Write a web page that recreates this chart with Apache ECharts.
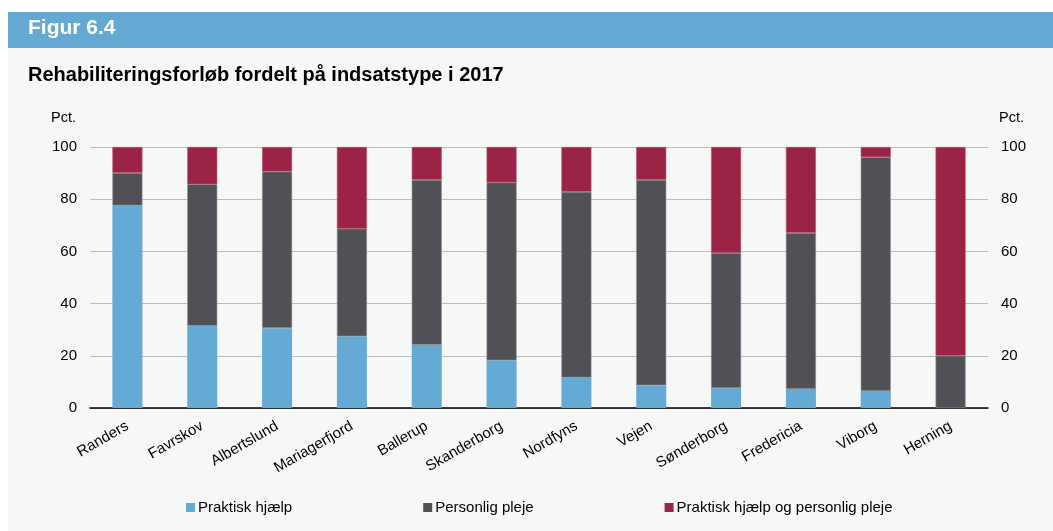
<!DOCTYPE html>
<html lang="da">
<head>
    <meta charset="utf-8">
    <title>Figur 6.4 - Rehabiliteringsforløb fordelt på indsatstype i 2017</title>
    <style>
        body { margin: 0; background: #fff; }
        #main { width: 1053px; height: 531px; }
    </style>
</head>
<body>
<div id="main"></div>
<script src="https://cdn.jsdelivr.net/npm/echarts@6/dist/echarts.min.js"></script>
<script type="text/javascript">
    // kommuner
    var kommuner = ['Randers', 'Favrskov', 'Albertslund', 'Mariagerfjord', 'Ballerup', 'Skanderborg',
        'Nordfyns', 'Vejen', 'Sønderborg', 'Fredericia', 'Viborg', 'Herning'];
    // andele i pct.
    var praktiskHjaelp = [77.6, 31.5, 30.6, 27.5, 24.2, 18.3, 11.7, 8.7, 7.6, 7.3, 6.5, 0];
    var personligPleje = [12.5, 54.2, 60.0, 41.2, 63.2, 68.1, 71.1, 78.7, 51.8, 59.8, 89.6, 20.0];
    var begge = [9.9, 14.3, 9.4, 31.3, 12.6, 13.6, 17.2, 12.6, 40.6, 32.9, 3.9, 80.0];
    var serieNavne = ['Praktisk hjælp', 'Personlig pleje', 'Praktisk hjælp og personlig pleje'];

    var font = '"Liberation Sans", Arial, sans-serif';
    var myChart = echarts.init(document.getElementById('main'));

    var option = {
        backgroundColor: '#ffffff',
        textStyle: { fontFamily: font },
        animation: false,
        graphic: [
            { type: 'rect', shape: { x: 8, y: 12, width: 1045, height: 519 }, style: { fill: '#f6f8f8' }, z: -10 },
            { type: 'rect', shape: { x: 8, y: 12, width: 1045, height: 36 }, style: { fill: '#64a9d4' }, z: -9 },
            { type: 'text', left: 28, top: 18, style: { text: 'Figur 6.4', fill: '#ffffff', font: 'bold 21px ' + font } },
            { type: 'text', left: 28, top: 65, style: { text: 'Rehabiliteringsforløb fordelt på indsatstype i 2017', fill: '#000', font: 'bold 20px ' + font } },
            { type: 'text', left: 51, top: 110, style: { text: 'Pct.', fill: '#000', font: '14.5px ' + font } },
            { type: 'text', left: 999, top: 110, style: { text: 'Pct.', fill: '#000', font: '14.5px ' + font } }
        ],
        legend: {
            data: serieNavne,
            left: 181,
            top: 495,
            itemWidth: 9,
            itemHeight: 9,
            itemGap: 131,
            icon: 'rect',
            itemStyle: { borderWidth: 0 },
            textStyle: { fontSize: 15, color: '#000', padding: [0, 0, 0, -2] }
        },
        grid: { left: 90, right: 65, top: 147, bottom: 123 },
        xAxis: {
            type: 'category',
            data: kommuner,
            axisLine: { lineStyle: { color: '#000', width: 1.5 } },
            axisTick: { length: 4, lineStyle: { color: '#777' } },
            axisLabel: { rotate: 30, fontSize: 15, color: '#000', margin: 17 }
        },
        yAxis: [
            {
                type: 'value', min: 0, max: 100, interval: 20,
                axisLabel: { fontSize: 15, color: '#000', margin: 13 },
                splitLine: { lineStyle: { color: '#bdbdbd', width: 1.2 } },
                axisLine: { show: false }, axisTick: { show: false }
            },
            {
                type: 'value', min: 0, max: 100, interval: 20, position: 'right',
                axisLabel: { fontSize: 15, color: '#000', margin: 13 },
                splitLine: { show: false },
                axisLine: { show: false }, axisTick: { show: false }
            }
        ],
        series: [
            { name: serieNavne[0], type: 'bar', stack: 'a', barWidth: 30, data: praktiskHjaelp,
                itemStyle: { color: '#64aad4' } },
            { name: serieNavne[1], type: 'bar', stack: 'a', barWidth: 30, data: personligPleje,
                itemStyle: { color: '#505157', borderColor: '#8a8a8e', borderWidth: 0.6 } },
            { name: serieNavne[2], type: 'bar', stack: 'a', barWidth: 30, data: begge,
                itemStyle: { color: '#9b2346', borderColor: '#b8506e', borderWidth: 0.6 } }
        ]
    };
    myChart.setOption(option);
</script>
</body>
</html>
